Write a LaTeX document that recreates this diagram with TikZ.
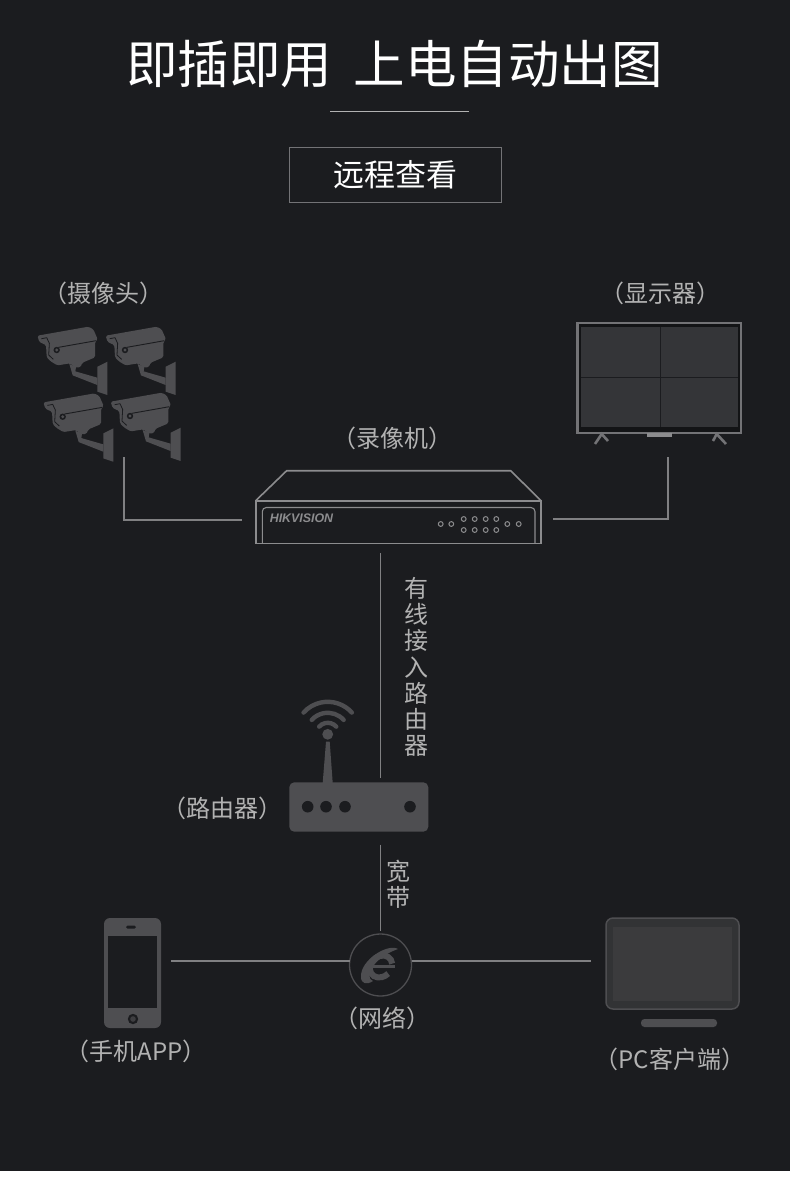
\documentclass[tikz,border=0pt]{standalone}
\usepackage{fontspec}
\newfontfamily\cjk{Noto Sans CJK SC}
\newfontfamily\cjkpar{Noto Sans CJK TC}
\newfontfamily\logofont{Liberation Sans}

\definecolor{bgdark}{HTML}{1B1C1F}
\definecolor{rulegray}{HTML}{808082}
\definecolor{lblgray}{HTML}{B2B2B2}
\definecolor{icongray}{HTML}{4E4E51}
\definecolor{panegray}{HTML}{343538}
\definecolor{pcgray}{HTML}{3B3B3D}
\definecolor{framegray}{HTML}{737376}
\definecolor{nvrgray}{HTML}{8C8C8E}

% full-width brackets that sit centred in their cell
\newcommand{\lbr}{{\cjkpar （}}
\newcommand{\rbr}{{\cjkpar ）}}

\tikzset{
    pics/camera/.style={code={
        \begin{scope}[x=.3333pt, y=-.3333pt]
        % hood and body
        \fill[icongray, rounded corners=1.5pt] (2,27) -- (155,0) -- (170,8) -- (183,38) -- (175,46)
            -- (175,92) -- (137,108) -- (131,122) -- (115,122) -- (100,110) -- (62,116)
            -- (42,104) -- (30,92) -- (28,55) -- (8,46) -- cycle;
        % arm and wall plate
        \fill[icongray] (98,112) -- (118,120) -- (116,134) -- (182,153) -- (182,175) -- (108,146) -- cycle;
        \fill[icongray] (182,120) -- (212,105) -- (212,205) -- (182,195) -- cycle;
        % dark details
        \draw[bgdark, line width=.9pt] (65,62) -- (178,42);
        \draw[bgdark, line width=.8pt] (14,36) -- (30,33) -- (38,50) -- (36,85) -- (50,98);
        \fill[bgdark] (60,70) circle[radius=3.2pt];
        \fill[icongray] (60,70) circle[radius=1.6pt];
        \end{scope}
    }},
}

\begin{document}
\begin{tikzpicture}[
    x=1pt, y=-1pt,
    lbl/.style={font=\cjk\fontsize{24}{26.2}\selectfont, text=lblgray, inner sep=0pt},
    icon/.style={inner sep=0pt, outer sep=0pt},
    conn/.style={draw=rulegray, line width=1.1pt},
    led/.style={draw=nvrgray, line width=1pt},
    wave/.style={draw=icongray, line width=4.4pt, line cap=round},
]
\useasboundingbox (0,0) rectangle (790,1182);
\fill[white] (0,0) rectangle (790,1182);
\fill[bgdark] (0,0) rectangle (790,1171);

% --- Heading ---
\node[icon, font=\cjk\fontsize{51.5}{52}\selectfont, text=white] (title) at (394.5,64) {即插即用\hspace{22pt}上电自动出图};
\draw[draw=lblgray, line width=1pt] (330,111.5) -- (469,111.5);
\node[icon, draw=framegray, line width=.9pt, minimum width=212pt, minimum height=55pt] (box) at (395,174.5) {};
\node[icon, font=\cjk\fontsize{31}{31}\selectfont, text=white] (remote) at (box.center) {远程查看};

% --- Device boxes ---
\node[icon, minimum width=145pt, minimum height=130pt] (cams) at (109.5,392) {};
\node[icon, minimum width=164pt, minimum height=122pt] (mon) at (659,383) {};
\node[icon, minimum width=286pt, minimum height=74pt] (nvr) at (398,507) {};
\node[icon, minimum width=139pt, minimum height=49pt] (router) at (359,807) {};
\node[icon, circle, draw=icongray, line width=1.3pt, minimum size=62pt] (globe) at (380.5,965) {};
\node[icon, minimum width=57pt, minimum height=110pt] (phone) at (132.5,973) {};
\node[icon, minimum width=133pt, minimum height=109pt] (pc) at (672.5,973) {};

% --- Cameras ---
\pic at (36.7,326.7) {camera};
\pic at (105,326.7) {camera};
\pic at (42.7,393.4) {camera};
\pic at (110,392.7) {camera};

% --- Monitor ---
\fill[bgdark!70!black] (577,323) rectangle (741,433);
\fill[panegray] (581,327) rectangle (738,427);
\draw[bgdark, line width=.9pt] (660.5,327) -- (660.5,427) (581,377) -- (738,377);
\draw[framegray, line width=2.4pt] (577.5,323) rectangle (741,433);
\fill[nvrgray] (647,433) rectangle (672,437);
\draw[framegray, line width=2.6pt] (595,444) -- (601.7,434) -- (608,441);
\draw[framegray, line width=2.6pt] (713,441) -- (716.7,434) -- (726,444);

% --- Recorder ---
\draw[nvrgray, line width=1.6pt, line join=round] (255.7,500.7) -- (286.7,470.7) -- (510.7,470.7) -- (541,500.7);
\draw[nvrgray, line width=1.6pt] (255.7,500.7) rectangle (541,543.3);
\draw[nvrgray, line width=1.1pt, rounded corners=4pt] (262.3,543.3) -- (262.3,507.5) -- (535,507.5) -- (535,543.3);
\node[icon, font=\logofont\bfseries\itshape\fontsize{12.4}{13}\selectfont, text=nvrgray] (brand) at (301.5,518.5) {HIKVISION};
\foreach \xa in {440.7,451.3,507.3,518.7}
    \draw[led] (\xa,524) circle[radius=2.4pt];
\foreach \xa in {463.7,474.7,485.7,496.3} {
    \draw[led] (\xa,519) circle[radius=2.4pt];
    \draw[led] (\xa,530) circle[radius=2.4pt];
}

% --- Router ---
\fill[icongray] (322.7,783) -- (326,741.7) -- (329.7,741.7) -- (332.7,783) -- cycle;
\fill[icongray, rounded corners=5pt] (289.3,782.3) rectangle (428.3,831.7);
\foreach \xa in {307.7,326,345,410}
    \fill[bgdark] (\xa,806.7) circle[radius=5.8pt];
\coordinate (ball) at (327.7,734.3);
\fill[icongray] (ball) circle[radius=5.4pt];
\foreach \ra in {11.5,21.5,32.5}
    \draw[wave] ([shift={(42:\ra pt)}]ball) arc[start angle=42, end angle=138, radius=\ra pt];

% --- Globe logo ---
\begin{scope}[shift={(381,966.5)}, xslant=.18]
    \draw[icongray, line width=6pt] (15:11pt) arc[start angle=15, end angle=320, radius=11pt];
    \draw[icongray, line width=3.6pt] (-13pt,0pt) -- (14pt,0pt);
\end{scope}
\fill[icongray] (398,949) .. controls (388,943) and (360,960) .. (361,977)
    .. controls (361,984) and (367,985) .. (373,981) .. controls (364,978) and (372,958) .. (398,949) -- cycle;

% --- Phone ---
\fill[icongray, rounded corners=6pt] (104,918) rectangle (161,1028);
\fill[bgdark] (108,936) rectangle (157,1008);
\fill[bgdark, rounded corners=1.5pt] (126,925.5) rectangle (136,928.5);
\fill[bgdark] (133,1019) circle[radius=5.2pt];
\fill[icongray!80!black] (133,1019) circle[radius=2.8pt];

% --- PC ---
\draw[icongray, fill=bgdark!90!white, line width=1.5pt, rounded corners=7pt] (606,918) rectangle (739,1009);
\fill[pcgray] (613,927) rectangle (732,1001);
\fill[icongray, rounded corners=3.5pt] (641,1019) rectangle (717,1027);

% --- Connectors ---
\draw[conn] ([xshift=14.5pt]cams.south) |- ([xshift=-13pt,yshift=-13pt]nvr.west);
\draw[conn] ([xshift=9pt,yshift=-13pt]mon.south) |- ([xshift=12pt,yshift=-12pt]nvr.east);
\draw[conn, shorten <=9pt, shorten >=5pt] (nvr.south -| globe.north) -- (router.north -| globe.north);
\draw[conn, shorten <=13pt, shorten >=3pt] (router.south -| globe.north) -- (globe.north);
\draw[conn, shorten <=10pt] ([yshift=12pt]phone.east) -- ([yshift=4pt]globe.west);
\draw[conn, shorten >=15pt] ([yshift=4pt]globe.east) -- ([yshift=12pt]pc.west);

% --- Labels ---
\node[lbl] (camlbl) at (103,293) {\lbr 摄像头\rbr};
\node[lbl] (monlbl) at (660,293) {\lbr 显示器\rbr};
\node[lbl] (nvrlbl) at (392,438) {\lbr 录像机\rbr};
\node[lbl] (routerlbl) at (222,808) {\lbr 路由器\rbr};
\node[lbl] (netlbl) at (382,1018) {\lbr 网络\rbr};
\node[lbl] (phonelbl) at (136,1051) {\lbr 手机APP\rbr};
\node[lbl] (pclbl) at (670,1059) {\lbr PC客户端\rbr};
\node[lbl, align=center] (wired) at (416,667) {有\\线\\接\\入\\路\\由\\器};
\node[lbl, align=center] (wide) at (398,884.5) {宽\\带};

\end{tikzpicture}
\end{document}
